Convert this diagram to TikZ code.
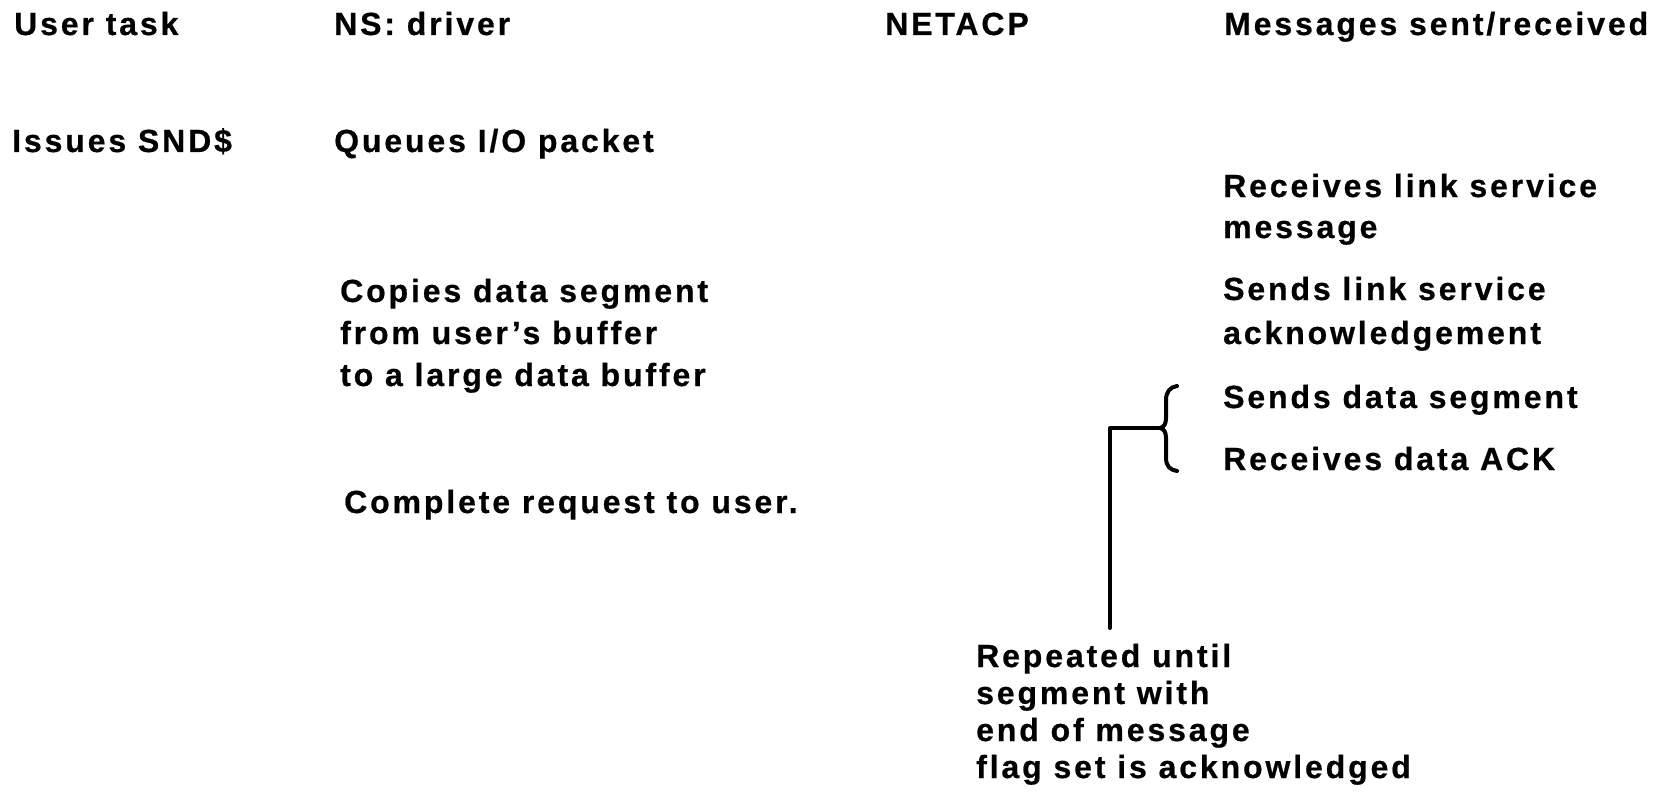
\documentclass[tikz,border=0pt]{standalone}
\usepackage{fontspec}
\setmainfont{Liberation Sans}[LetterSpace=9,BoldFeatures={FakeBold=0.6}]
\begin{document}
\begin{tikzpicture}[x=1pt,y=-1pt,
  lbl/.style={anchor=base west,inner sep=0pt,font=\fontsize{32}{38}\selectfont\bfseries},
  conn/.style={line width=4pt,line cap=round,line join=round}]
\useasboundingbox (0,0) rectangle (1664,805);
% header
\node[lbl] (h1) at (14,35) {User task};
\node[lbl] (h2) at (334,35) {NS: driver};
\node[lbl] (h3) at (885,35) {NETACP};
\node[lbl] (h4) at (1224,35) {Messages sent/received};
% row 2
\node[lbl] (u1) at (12,152) {Issues SND\$};
\node[lbl] (d1) at (334,152) {Queues I/O packet};
% driver column
\node[lbl] (d2a) at (340,302) {Copies data segment};
\node[lbl] (d2b) at (340,344) {from user’s buffer};
\node[lbl] (d2c) at (340,386) {to a large data buffer};
\node[lbl] (d3) at (344,513) {Complete request to user.};
% messages column
\node[lbl] (m1a) at (1223,197) {Receives link service};
\node[lbl] (m1b) at (1223,238) {message};
\node[lbl] (m2a) at (1223,300) {Sends link service};
\node[lbl] (m2b) at (1223,344) {acknowledgement};
\node[lbl] (m3) at (1223,408) {Sends data segment};
\node[lbl] (m4) at (1223,470) {Receives data ACK};
% note
\node[lbl] (r1) at (976,667) {Repeated until};
\node[lbl] (r2) at (976,704) {segment with};
\node[lbl] (r3) at (976,741) {end of message};
\node[lbl] (r4) at (976,778) {flag set is acknowledged};
% brace
\coordinate (btop) at (1177,386);
\coordinate (bbot) at (1177,471);
\coordinate (tip) at (1160,428);
\coordinate (corner) at (1110,428);
\coordinate (lineend) at (1110,628);
\draw[conn] (btop) .. controls (1170,387) and (1166,392) .. (1166,400)
  -- (1166,418) .. controls (1166,424) and (1164,427) .. (tip)
  .. controls (1164,429) and (1166,432) .. (1166,438)
  -- (1166,458) .. controls (1166,466) and (1170,470) .. (bbot);
\draw[conn] (tip) -- (corner) -- (lineend);
\end{tikzpicture}
\end{document}
